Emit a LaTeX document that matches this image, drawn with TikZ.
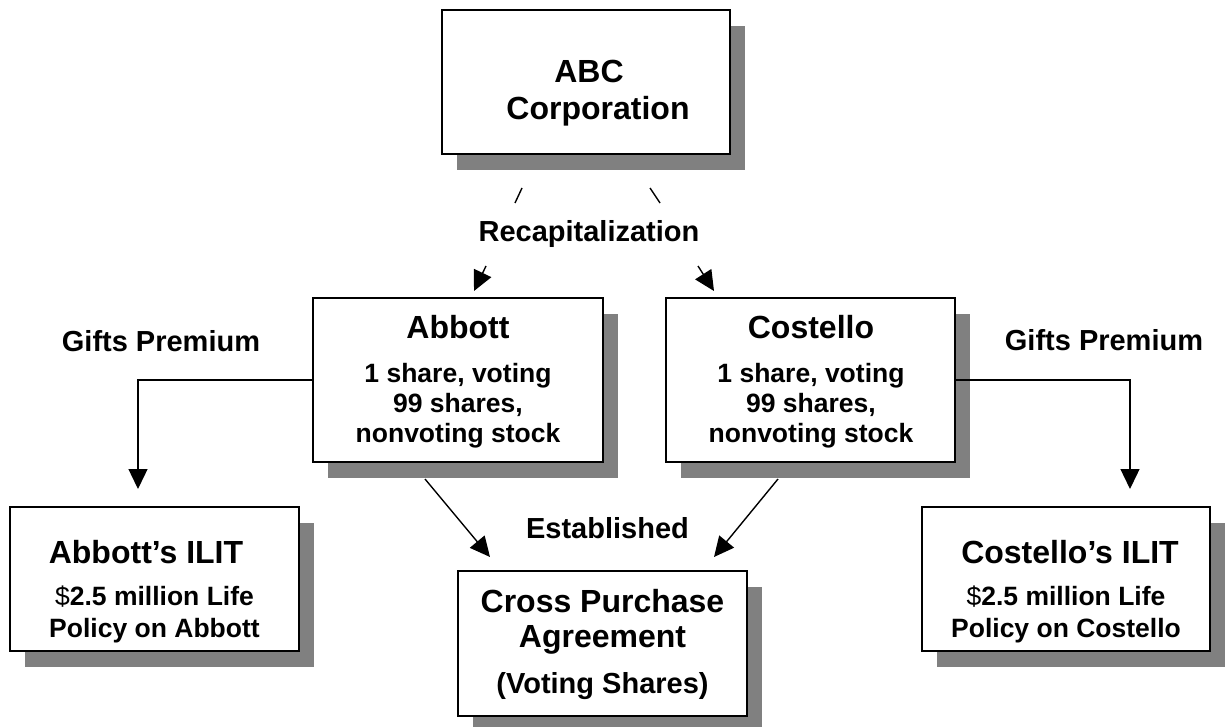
\documentclass[tikz,border=0pt]{standalone}
\usepackage{fontspec}
\setmainfont{Liberation Sans}
\usetikzlibrary{arrows.meta,calc,shadows}
\definecolor{shade}{RGB}{128,128,128}
\newcommand\titlef{\fontsize{32}{37}\selectfont\bfseries}
\newcommand\labelf{\fontsize{29}{34}\selectfont\bfseries}
\newcommand\bodyf{\fontsize{26.5}{30}\selectfont\bfseries}
\newcommand\bodyg{\fontsize{26.5}{32}\selectfont\bfseries}
\tikzset{
  box/.style={draw=black, line width=2pt, fill=white, rectangle, inner sep=0pt,
    drop shadow={shadow xshift=15pt, shadow yshift=-16pt, fill=shade, opacity=1}},
  txt/.style={inner sep=0pt, anchor=base, align=center},
  conn/.style={line width=1.4pt, -{Triangle[length=20pt,width=19pt]}},
  plain/.style={line width=1.4pt}
}
\begin{document}
\begin{tikzpicture}[x=1pt,y=-1pt]
\useasboundingbox (0,0) rectangle (1229,727);
% boxes
\node[box, minimum width=288pt, minimum height=144pt] (abc) at (586,82) {};
\node[box, minimum width=290pt, minimum height=164pt] (abbott) at (458,380) {};
\node[box, minimum width=289pt, minimum height=164pt] (costello) at (810.5,380) {};
\node[box, minimum width=289pt, minimum height=144pt] (ailit) at (154.5,579) {};
\node[box, minimum width=288pt, minimum height=144pt] (cilit) at (1066,579) {};
\node[box, minimum width=289pt, minimum height=145pt] (cpa) at (602.5,643.5) {};
% box texts (anchor base = baseline of last line)
\node[txt, font=\titlef] (abct) at (589,120) {ABC\\\hspace*{18pt}Corporation};
\node[txt, font=\titlef] (abbt) at (458,338) {Abbott};
\node[txt, font=\bodyf] (abbb) at (458,442) {1 share, voting\\99 shares,\\nonvoting stock};
\node[txt, font=\titlef] (cost) at (811,338) {Costello};
\node[txt, font=\bodyf] (cosb) at (811,442) {1 share, voting\\99 shares,\\nonvoting stock};
\node[txt, font=\titlef] (ailt) at (146,563) {Abbott’s ILIT};
\node[txt, font=\bodyg] (ailb) at (154.5,637) {{\mdseries\$}2.5 million Life\\Policy on Abbott};
\node[txt, font=\titlef] (cilt) at (1070,563) {Costello’s ILIT};
\node[txt, font=\bodyg] (cilb) at (1066,637) {{\mdseries\$}2.5 million Life\\Policy on Costello};
\node[txt, font=\fontsize{32}{35}\selectfont\bfseries] (cpat) at (602.5,647) {Cross Purchase\\Agreement};
\node[txt, font=\labelf] (cpab) at (602.5,693) {(Voting Shares)};
% labels
\node[txt, font=\labelf] (giftl) at (161,352) {Gifts Premium};
\node[txt, font=\labelf] (giftr) at (1104,350) {Gifts Premium};
\node[txt, font=\labelf] (recap) at (589,242) {Recapitalization};
\node[txt, font=\labelf] (estab) at (607.5,538) {Established};
% connectors
\draw[conn] (abbott.west) -| ($(ailit.north)+(-16.5,-17)$);
\draw[conn] (costello.east) -| ($(cilit.north)+(64,-17)$);
\draw[conn] ($(abbott.south)+(-33,16)$) -- ($(cpa.north)+(-112.5,-13)$);
\draw[conn] ($(costello.south)+(-32.5,16)$) -- ($(cpa.north)+(111.5,-13)$);
\draw[plain] ($(abc.south)+(-64,33)$) -- ($(abc.south)+(-71,48)$);
\draw[conn] ($(abbott.north)+(28,-31)$) -- ($(abbott.north)+(16,-6)$);
\draw[plain] ($(abc.south)+(64,33)$) -- ($(abc.south)+(74,48)$);
\draw[conn] ($(costello.north)+(-112.5,-31)$) -- ($(costello.north)+(-96.5,-6)$);
\end{tikzpicture}
\end{document}
